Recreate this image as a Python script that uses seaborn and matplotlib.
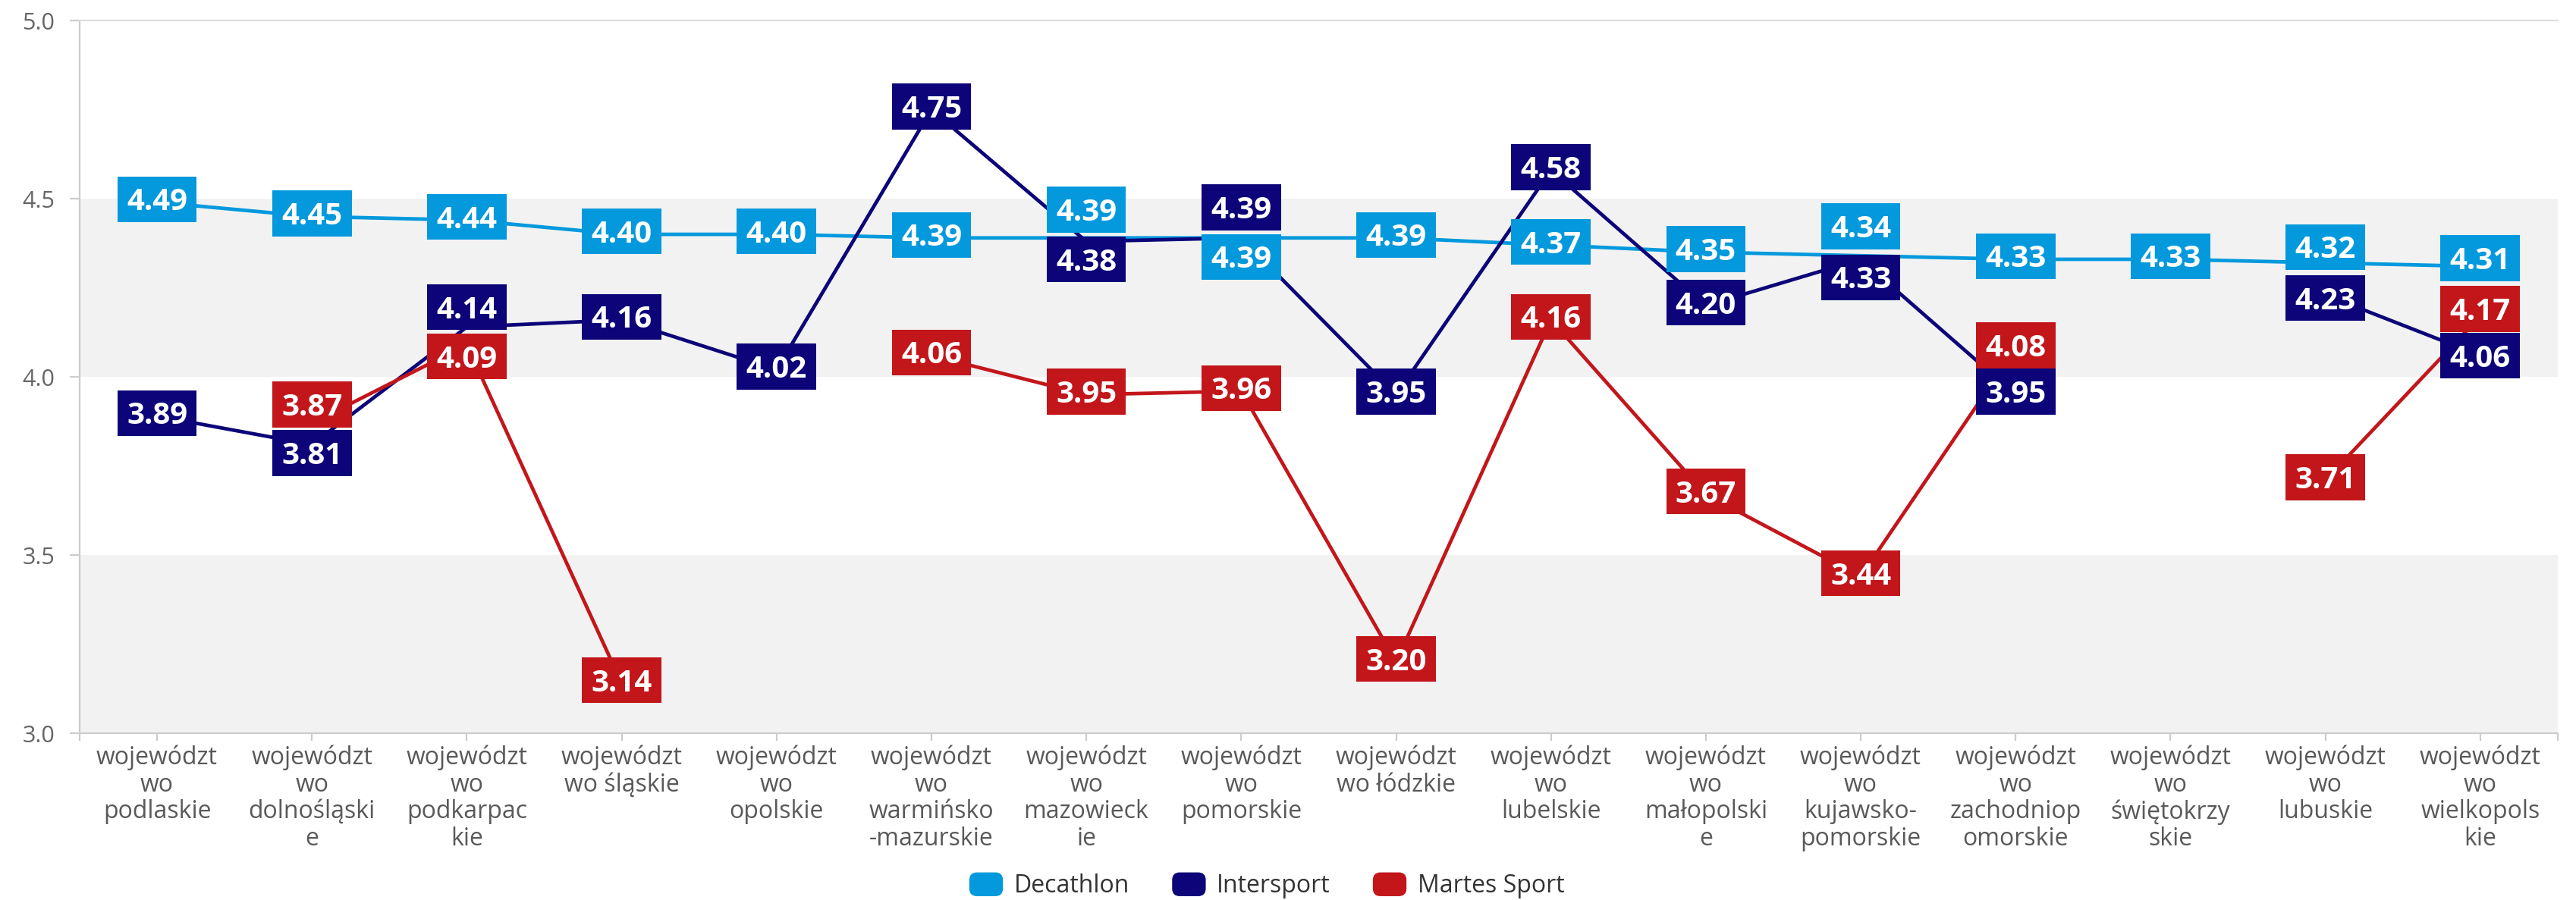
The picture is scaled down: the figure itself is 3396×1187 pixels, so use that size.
import matplotlib.pyplot as plt
import pandas as pd
import seaborn as sns
from matplotlib.legend_handler import HandlerPatch
from matplotlib.patches import FancyBboxPatch, Patch
from matplotlib.path import Path

# województwa, w kolejności z wykresu
regions = ["podlaskie", "dolnośląskie", "podkarpackie", "śląskie", "opolskie",
           "warmińsko-mazurskie", "mazowieckie", "pomorskie", "łódzkie", "lubelskie",
           "małopolskie", "kujawsko-pomorskie", "zachodniopomorskie", "świętokrzyskie",
           "lubuskie", "wielkopolskie"]

tick_labels = ["województ\nwo\npodlaskie", "województ\nwo\ndolnośląski\ne",
               "województ\nwo\npodkarpac\nkie", "województ\nwo śląskie",
               "województ\nwo\nopolskie", "województ\nwo\nwarmińsko\n-mazurskie",
               "województ\nwo\nmazowieck\nie", "województ\nwo\npomorskie",
               "województ\nwo łódzkie", "województ\nwo\nlubelskie",
               "województ\nwo\nmałopolski\ne", "województ\nwo\nkujawsko-\npomorskie",
               "województ\nwo\nzachodniop\nomorskie", "województ\nwo\nświętokrzy\nskie",
               "województ\nwo\nlubuskie", "województ\nwo\nwielkopols\nkie"]

decathlon = [4.49, 4.45, 4.44, 4.40, 4.40, 4.39, 4.39, 4.39, 4.39, 4.37, 4.35, 4.34, 4.33, 4.33, 4.32, 4.31]
intersport = [3.89, 3.81, 4.14, 4.16, 4.02, 4.75, 4.38, 4.39, 3.95, 4.58, 4.20, 4.33, 3.95, None, 4.23, 4.06]
martes = [None, 3.87, 4.09, 3.14, None, 4.06, 3.95, 3.96, 3.20, 4.16, 3.67, 3.44, 4.08, None, 3.71, 4.17]

brands = ["Decathlon", "Intersport", "Martes Sport"]
colors = {"Decathlon": "#0499dd", "Intersport": "#0c0478", "Martes Sport": "#c3161b"}

# przesunięcie etykiet (w punktach) tam, gdzie nachodzą na siebie
label_shift = {("Martes Sport", 1): 7.5, ("Intersport", 1): -5.5,
               ("Intersport", 2): 8, ("Martes Sport", 2): -7,
               ("Decathlon", 6): 12, ("Intersport", 6): -10,
               ("Intersport", 7): 13, ("Decathlon", 7): -10.5,
               ("Decathlon", 11): 12.5, ("Intersport", 11): -10,
               ("Decathlon", 14): 6, ("Intersport", 14): -3,
               ("Decathlon", 15): 2.5, ("Martes Sport", 15): 2, ("Intersport", 15): -1.5}

rows = []
for brand, vals in zip(brands, [decathlon, intersport, martes]):
    seg = 0
    for i, v in enumerate(vals):
        if v is None:
            seg += 1  # przerwa w linii
            continue
        rows.append({"idx": i, "region": regions[i], "score": v, "brand": brand, "seg": f"{brand}_{seg}"})
df = pd.DataFrame(rows)


def label_box(x0, y0, width, height, mutation_size):
    # stały rozmiar prostokąta pod etykietą
    cx = x0 + width / 2
    cy = y0 + height / 2 + 0.1 * mutation_size
    w, h = 2.6 * mutation_size, 1.5 * mutation_size
    return Path([(cx - w / 2, cy - h / 2), (cx + w / 2, cy - h / 2), (cx + w / 2, cy + h / 2),
                 (cx - w / 2, cy + h / 2), (cx - w / 2, cy - h / 2)],
                [Path.MOVETO, Path.LINETO, Path.LINETO, Path.LINETO, Path.CLOSEPOLY])


def round_handle(legend, orig_handle, xdescent, ydescent, width, height, fontsize):
    return FancyBboxPatch((-xdescent, -ydescent), width, height,
                          boxstyle="round,pad=0,rounding_size=%f" % (0.3 * height))


sns.set_theme(style="white")
plt.rcParams["font.family"] = ["Open Sans", "DejaVu Sans"]

fig = plt.figure(figsize=(16.98, 5.935), dpi=200)
ax = fig.add_axes([0.0309, 0.1853, 0.9620, 0.7919])

ax.axhspan(3.0, 3.5, color="#f2f2f2", lw=0, zorder=0)
ax.axhspan(4.0, 4.5, color="#f2f2f2", lw=0, zorder=0)

sns.lineplot(data=df, x="idx", y="score", hue="brand", units="seg", estimator=None,
             palette=colors, hue_order=brands, linewidth=1.7, legend=False, ax=ax)

for r in df.itertuples():
    ax.annotate(f"{r.score:.2f}", (r.idx, r.score),
                xytext=(0, label_shift.get((r.brand, r.idx), 0)), textcoords="offset points",
                ha="center", va="center", color="white", fontsize=14.5, fontweight="bold",
                bbox=dict(boxstyle=label_box, fc=colors[r.brand], ec="none"), zorder=5)

ax.set_xlim(-0.5, 15.5)
ax.set_ylim(3.0, 5.0)
ax.set_yticks([3.0, 3.5, 4.0, 4.5, 5.0])
ax.set_yticklabels(["3.0", "3.5", "4.0", "4.5", "5.0"])
ax.set_xticks(range(len(regions)))
ax.set_xticklabels(tick_labels, linespacing=1.1)
ax.set_xticks([-0.5, 15.5], minor=True)
ax.set_xlabel("")
ax.set_ylabel("")

ax.tick_params(axis="y", which="both", left=True, length=4.7, width=0.8, color="#cccccc",
               pad=7, labelsize=11, labelcolor="#666666")
ax.tick_params(axis="x", which="both", bottom=True, length=3.6, width=0.8, color="#cccccc",
               pad=2, labelsize=11.5, labelcolor="#595959")

for side in ["left", "bottom"]:
    ax.spines[side].set_color("#cccccc")
    ax.spines[side].set_linewidth(0.8)
ax.spines["top"].set_color("#dddddd")
ax.spines["top"].set_linewidth(0.8)
ax.spines["right"].set_visible(False)

handles = [Patch(color=colors[b], label=b) for b in brands]
fig.legend(handles=handles, loc="center", bbox_to_anchor=(0.492, 0.0155), ncol=3, frameon=False,
           fontsize=11.5, labelcolor="#333333", handlelength=1.3, handleheight=1.0,
           handletextpad=0.5, columnspacing=1.8,
           handler_map={Patch: HandlerPatch(patch_func=round_handle)})

fig.savefig("out.png", dpi=200)
